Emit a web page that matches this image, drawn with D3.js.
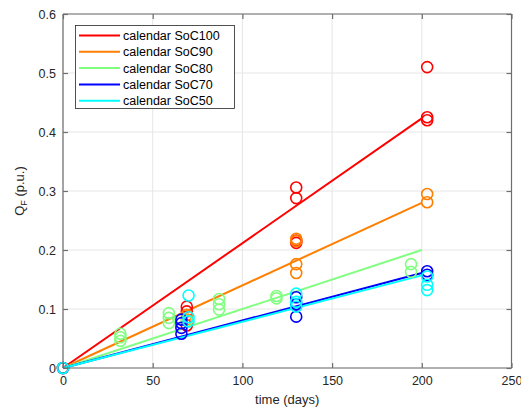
<!DOCTYPE html>
<html><head><meta charset="utf-8">
<script src="https://cdn.jsdelivr.net/npm/d3@7"></script>
<style>body{margin:0;background:#fff}text{font-family:"Liberation Sans",Arial,sans-serif}</style>
</head><body><svg id="c" width="521" height="411"></svg>
<script>
const seriesNames = ["calendar SoC100","calendar SoC90","calendar SoC80","calendar SoC70","calendar SoC50"];
const seriesColors = ["#ff0000","#ff7f00","#80ff80","#0000ff","#00ffff"];
const fitEndDay = 200;
const fitEndValues = [0.423, 0.280, 0.200, 0.161, 0.157];
const days100 = [0, 69, 69, 69, 130, 130, 130, 130, 203, 203, 203];
const vals100 = [0, 0.104, 0.096, 0.072, 0.306, 0.288, 0.216, 0.212, 0.510, 0.425, 0.420];
const days90 = [0, 69, 69, 130, 130, 130, 130, 203, 203];
const vals90 = [0, 0.090, 0.082, 0.219, 0.215, 0.176, 0.161, 0.295, 0.281];
const days80 = [0, 32, 32, 32, 59, 59, 59, 69, 87, 87, 87, 119, 119, 194, 194];
const vals80 = [0, 0.058, 0.052, 0.046, 0.093, 0.085, 0.076, 0.080, 0.117, 0.108, 0.099, 0.122, 0.118, 0.176, 0.163];
const days70 = [0, 66, 66, 66, 66, 130, 130, 130, 203, 203];
const vals70 = [0, 0.082, 0.076, 0.068, 0.058, 0.120, 0.108, 0.087, 0.164, 0.158];
const days50 = [0, 70, 70, 70, 130, 130, 130, 203, 203, 203];
const vals50 = [0, 0.123, 0.086, 0.079, 0.126, 0.112, 0.104, 0.155, 0.141, 0.132];
const xTicks = [0, 50, 100, 150, 200, 250];
const yTicks = [0, 0.1, 0.2, 0.3, 0.4, 0.5, 0.6];
const xLabel = "time (days)";

const allDays = [days100, days90, days80, days70, days50];
const allVals = [vals100, vals90, vals80, vals70, vals50];

const svg = d3.select("#c");
const L = 63, R = 511.5, T = 14, B = 368;
const x = d3.scaleLinear().domain([0, 250]).range([L, R]);
const y = d3.scaleLinear().domain([0, 0.6]).range([B, T]);
const axisCol = "#6e6e6e", textCol = "#262626";

// grid
const g = svg.append("g");
g.selectAll(".gx").data(xTicks).enter().append("line")
  .attr("x1", d => x(d)).attr("x2", d => x(d)).attr("y1", T).attr("y2", B)
  .attr("stroke", "#e6e6e6").attr("stroke-width", 1);
g.selectAll(".gy").data(yTicks).enter().append("line")
  .attr("y1", d => y(d)).attr("y2", d => y(d)).attr("x1", L).attr("x2", R)
  .attr("stroke", "#e6e6e6").attr("stroke-width", 1);

// fit lines
const line = d3.line().x(d => x(d[0])).y(d => y(d[1]));
fitEndValues.forEach((v, i) => {
  svg.append("path").datum([[0, 0], [fitEndDay, v]]).attr("d", line)
    .attr("fill", "none").attr("stroke", seriesColors[i]).attr("stroke-width", 2);
});

// markers
allDays.forEach((ds, i) => {
  svg.append("g").selectAll("circle").data(ds.map((d, j) => [d, allVals[i][j]])).enter()
    .append("circle").attr("cx", d => x(d[0])).attr("cy", d => y(d[1])).attr("r", 5.5)
    .attr("fill", "none").attr("stroke", seriesColors[i]).attr("stroke-width", 1.6);
});

// axes
const ax = svg.append("g").attr("transform", `translate(0,${B})`)
  .call(d3.axisBottom(x).tickValues(xTicks).tickSize(-5).tickPadding(8).tickFormat(d3.format("d")));
const axT = svg.append("g").attr("transform", `translate(0,${T})`)
  .call(d3.axisTop(x).tickValues(xTicks).tickSize(-5).tickFormat(""));
const ay = svg.append("g").attr("transform", `translate(${L},0)`)
  .call(d3.axisLeft(y).tickValues(yTicks).tickSize(-5).tickPadding(7).tickFormat(d => d === 0 ? "0" : d3.format(".1f")(d)));
const ayR = svg.append("g").attr("transform", `translate(${R},0)`)
  .call(d3.axisRight(y).tickValues(yTicks).tickSize(-5).tickFormat(""));
[ax, axT, ay, ayR].forEach(a => {
  a.select(".domain").attr("stroke", axisCol).attr("stroke-width", 1.2);
  a.selectAll(".tick line").attr("stroke", axisCol).attr("stroke-width", 1.2);
  a.selectAll(".tick text").attr("fill", textCol).attr("font-size", 12.5)
    .attr("font-family", "Liberation Sans, Arial, sans-serif");
});
ax.select(".domain").attr("d", `M${L},0H${R}`);
axT.select(".domain").attr("d", `M${L},0H${R}`);
ay.select(".domain").attr("d", `M0,${T}V${B}`);
ayR.select(".domain").attr("d", `M0,${T}V${B}`);

// labels
svg.append("text").attr("x", (L + R) / 2).attr("y", 404).attr("text-anchor", "middle")
  .attr("font-size", 13).attr("fill", textCol).text(xLabel);
const yl = svg.append("text").attr("transform", `translate(24,${(T + B) / 2}) rotate(-90)`)
  .attr("text-anchor", "middle").attr("font-size", 13).attr("fill", textCol);
yl.append("tspan").text("Q");
yl.append("tspan").attr("font-size", 9).attr("dy", 3).text("F");
yl.append("tspan").attr("dy", -3).text(" (p.u.)");

// legend
const lg = svg.append("g");
lg.append("rect").attr("x", 75.5).attr("y", 25.5).attr("width", 159).attr("height", 83)
  .attr("fill", "#fff").attr("stroke", "#262626").attr("stroke-width", 0.8);
seriesNames.forEach((n, i) => {
  const yy = 35.5 + i * 16.3;
  lg.append("line").attr("x1", 79).attr("x2", 120).attr("y1", yy).attr("y2", yy)
    .attr("stroke", seriesColors[i]).attr("stroke-width", 2);
  lg.append("text").attr("x", 123).attr("y", yy + 4.5).attr("font-size", 12.5)
    .attr("fill", "#000").text(n);
});
</script></body></html>
